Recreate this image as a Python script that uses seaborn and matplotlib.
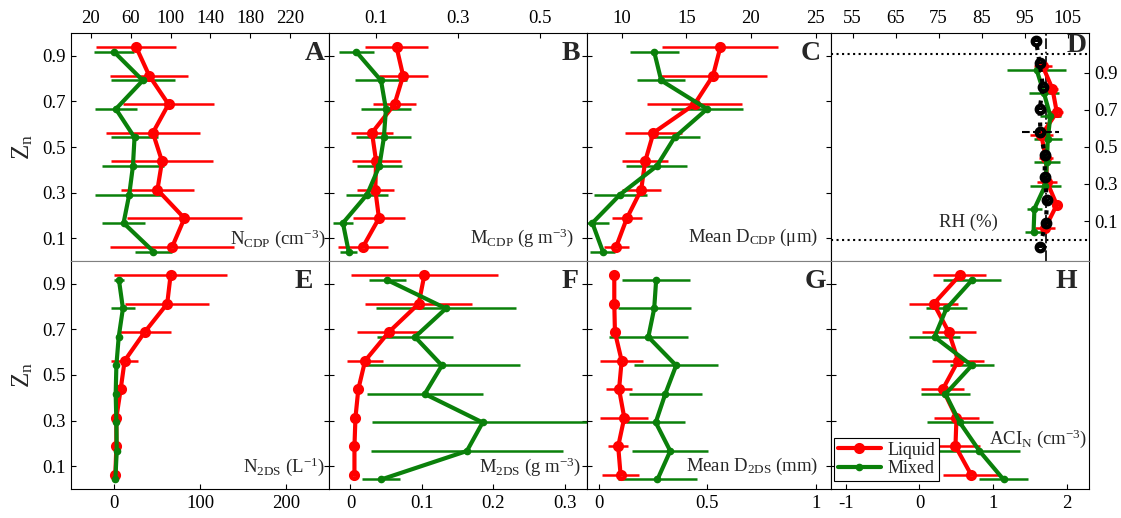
import matplotlib
matplotlib.use("Agg")
import matplotlib.pyplot as plt
from matplotlib.lines import Line2D
import seaborn as sns

# ---------------- data ----------------
# normalized height of each bin centre (bottom -> top)
zn_liquid = [0.0625, 0.1875, 0.3125, 0.4375, 0.5625, 0.6875, 0.8125, 0.9375]
zn_mixed = [0.0417, 0.1667, 0.2917, 0.4167, 0.5417, 0.6667, 0.7917, 0.9167]

# CDP number concentration (cm-3)
ncdp_liq = [101.6, 113.9, 86.8, 91.4, 82.2, 97.9, 78.6, 65.5]
ncdp_liq_sd = [62, 58, 37, 51, 47, 46, 39, 40]
ncdp_mix = [82.8, 52.8, 58.5, 62.2, 63.8, 45.1, 72.1, 43.4]
ncdp_mix_sd = [19, 22, 34, 31, 24, 21, 32, 20]

# CDP mass concentration (g m-3)
mcdp_liq = [0.068, 0.107, 0.098, 0.100, 0.090, 0.145, 0.166, 0.150]
mcdp_liq_sd = [0.060, 0.063, 0.045, 0.060, 0.051, 0.052, 0.060, 0.077]
mcdp_mix = [0.033, 0.019, 0.078, 0.108, 0.119, 0.124, 0.112, 0.052]
mcdp_mix_sd = [0.020, 0.025, 0.052, 0.055, 0.067, 0.062, 0.064, 0.043]

# CDP mean diameter (um)
dcdp_liq = [9.56, 10.39, 11.50, 11.81, 12.45, 15.63, 17.06, 17.63]
dcdp_liq_sd = [0.97, 1.15, 1.5, 1.8, 2.2, 3.7, 4.2, 4.5]
dcdp_mix = [8.53, 7.72, 9.87, 12.71, 14.08, 16.60, 13.05, 12.51]
dcdp_mix_sd = [0.97, 1.3, 2.05, 2.35, 1.95, 2.8, 1.85, 1.9]

# relative humidity (%)
rh_liq = [99.8, 102.5, 100.2, 100.0, 98.9, 102.5, 101.5, 99.2]
rh_liq_sd = [2.3, 0.8, 2.3, 1.7, 2.7, 1.5, 1.2, 2.1]
rh_mix = [97.1, 97.3, 99.8, 100.2, 100.4, 101.0, 99.5, 97.8]
rh_mix_sd = [2.1, 1.7, 3.6, 3.0, 3.3, 2.5, 3.5, 6.8]
zn_rh_all = [-0.039, 0.091, 0.214, 0.336, 0.457, 0.581, 0.704, 0.823, 0.952, 1.070]
rh_all = [98.5, 100.0, 100.2, 99.7, 99.7, 98.7, 98.5, 99.3, 98.5, 97.7]
rh_all_sd = [0.6, 0.6, 0.6, 0.6, 0.6, 4.25, 0.6, 0.6, 0.6, 0.6]

# 2DS number concentration (L-1)
n2ds_liq = [1.6, 2.8, 2.8, 7.8, 12.4, 35.6, 61.9, 65.8]
n2ds_liq_sd = [1, 1, 1, 3, 16, 31, 48.5, 66]
n2ds_mix = [1.6, 3.2, 2.8, 2.0, 2.8, 5.5, 10.4, 5.8]
n2ds_mix_sd = [1.5, 1.5, 1.5, 1.5, 2, 3, 14, 6]

# 2DS mass concentration (g m-3)
m2ds_liq = [0.0056, 0.0056, 0.007, 0.011, 0.0205, 0.0535, 0.0955, 0.1034]
m2ds_liq_sd = [0.002, 0.002, 0.002, 0.004, 0.025, 0.045, 0.075, 0.103]
m2ds_mix = [0.043, 0.163, 0.185, 0.104, 0.128, 0.0904, 0.1337, 0.0513]
m2ds_mix_sd = [0.027, 0.134, 0.155, 0.081, 0.109, 0.053, 0.098, 0.026]

# 2DS mean diameter (mm)
d2ds_liq = [0.100, 0.089, 0.117, 0.093, 0.105, 0.074, 0.071, 0.071]
d2ds_liq_sd = [0.084, 0.046, 0.11, 0.06, 0.10, 0.01, 0.01, 0.01]
d2ds_mix = [0.270, 0.329, 0.262, 0.306, 0.356, 0.228, 0.255, 0.264]
d2ds_mix_sd = [0.183, 0.175, 0.135, 0.168, 0.195, 0.183, 0.168, 0.158]

# aerosol-cloud interaction index
aci_liq = [0.701, 0.488, 0.502, 0.316, 0.525, 0.398, 0.194, 0.547]
aci_liq_sd = [0.38, 0.33, 0.30, 0.29, 0.355, 0.37, 0.33, 0.36]
aci_mix = [1.14, 0.814, 0.547, 0.353, 0.71, 0.204, 0.366, 0.715]
aci_mix_sd = [0.33, 0.55, 0.45, 0.33, 0.30, 0.34, 0.28, 0.39]

panel_letters = ["A", "B", "C", "D", "E", "F", "G", "H"]
quantity_labels = [
    r"N$_{\mathrm{CDP}}$ (cm$^{\mathrm{-3}}$)",
    r"M$_{\mathrm{CDP}}$ (g m$^{\mathrm{-3}}$)",
    r"Mean D$_{\mathrm{CDP}}$ ($\mathrm{\mu}$m)",
    "RH (%)",
    r"N$_{\mathrm{2DS}}$ (L$^{\mathrm{-1}}$)",
    r"M$_{\mathrm{2DS}}$ (g m$^{\mathrm{-3}}$)",
    r"Mean D$_{\mathrm{2DS}}$ (mm)",
    r"ACI$_{\mathrm{N}}$ (cm$^{\mathrm{-3}}$)",
]
xtick_values = [
    [20, 60, 100, 140, 180, 220],
    [0.1, 0.3, 0.5],
    [10, 15, 20, 25],
    [55, 65, 75, 85, 95, 105],
    [0, 100, 200],
    [0, 0.1, 0.2, 0.3],
    [0, 0.5, 1],
    [-1, 0, 1, 2],
]
xtick_labels = [
    ["20", "60", "100", "140", "180", "220"],
    ["0.1", "0.3", "0.5"],
    ["10", "15", "20", "25"],
    ["55", "65", "75", "85", "95", "105"],
    ["0", "100", "200"],
    ["0", "0.1", "0.2", "0.3"],
    ["0", "0.5", "1"],
    ["-1", "0", "1", "2"],
]
zn_ticks = [0.1, 0.3, 0.5, 0.7, 0.9]
zn_tick_labels = ["0.1", "0.3", "0.5", "0.7", "0.9"]

# ---------------- style ----------------
sns.set_theme(style="white")
plt.rcParams.update({
    "font.family": ["Liberation Serif", "DejaVu Serif"],
    "mathtext.fontset": "custom",
    "mathtext.rm": "Liberation Serif",
    "mathtext.it": "Liberation Serif:italic",
    "mathtext.bf": "Liberation Serif:bold",
    "axes.unicode_minus": False,
    "axes.edgecolor": "black",
    "axes.linewidth": 0.8,
})

RED = "#ff0000"
GREEN = "#0a800a"

fig = plt.figure(figsize=(11.21, 5.18), dpi=100)
col_geom = [(0.0633, 0.2302), (0.2935, 0.2301), (0.5236, 0.2177), (0.7413, 0.2302)]
row_bottom = [0.4961, 0.0560]
row_h = 0.4402

xlims = [(0, 259), (-0.015, 0.615), (7.3, 26.2), (50, 110),
         (-50, 250), (-0.03, 0.331), (-0.055, 1.07), (-1.2, 2.3)]
letter_pos = [(0.984, 0.911), (0.972, 0.911), (0.959, 0.911), (0.991, 0.947),
              (0.939, 0.909), (0.969, 0.909), (0.979, 0.909), (0.955, 0.909)]
label_pos = [(0.988, 0.096), (0.950, 0.100), (0.945, 0.105), (0.647, 0.171),
             (0.984, 0.099), (0.976, 0.099), (0.949, 0.101), (0.993, 0.219)]

series = [
    (ncdp_liq, ncdp_liq_sd, ncdp_mix, ncdp_mix_sd),
    (mcdp_liq, mcdp_liq_sd, mcdp_mix, mcdp_mix_sd),
    (dcdp_liq, dcdp_liq_sd, dcdp_mix, dcdp_mix_sd),
    (rh_liq, rh_liq_sd, rh_mix, rh_mix_sd),
    (n2ds_liq, n2ds_liq_sd, n2ds_mix, n2ds_mix_sd),
    (m2ds_liq, m2ds_liq_sd, m2ds_mix, m2ds_mix_sd),
    (d2ds_liq, d2ds_liq_sd, d2ds_mix, d2ds_mix_sd),
    (aci_liq, aci_liq_sd, aci_mix, aci_mix_sd),
]

liq_style = dict(color=RED, lw=3, marker="o", ms=5, mew=3, mfc="none", mec=RED)
mix_style = dict(color=GREEN, lw=3, marker="o", ms=4.5, mew=1, mfc=GREEN, mec=GREEN)


def draw_profile(ax, lx, lsd, mx, msd):
    ax.errorbar(lx, zn_liquid, xerr=lsd, fmt="none", ecolor=RED,
                elinewidth=1.8, capsize=0, zorder=2)
    ax.errorbar(mx, zn_mixed, xerr=msd, fmt="none", ecolor=GREEN,
                elinewidth=1.8, capsize=0, zorder=2)
    sns.lineplot(x=lx, y=zn_liquid, ax=ax, sort=False, estimator=None,
                 legend=False, zorder=3, **liq_style)
    sns.lineplot(x=mx, y=zn_mixed, ax=ax, sort=False, estimator=None,
                 legend=False, zorder=4, **mix_style)


for i in range(8):
    row, col = divmod(i, 4)
    left, width = col_geom[col]
    ax = fig.add_axes([left, row_bottom[row], width, row_h])
    lx, lsd, mx, msd = series[i]
    draw_profile(ax, lx, lsd, mx, msd)

    if i == 3:
        # whole-cloud RH profile with cloud base/top markers
        ax.axhline(0, ls=":", color="black", lw=1.5, zorder=1)
        ax.axhline(1, ls=":", color="black", lw=1.5, zorder=1)
        ax.axvline(100, ls="-.", color="black", lw=1.2, zorder=1)
        eb = ax.errorbar(rh_all, zn_rh_all, xerr=rh_all_sd, fmt="none",
                         ecolor="black", elinewidth=1.5, capsize=0, zorder=5)
        eb[2][0].set_linestyle("--")
        sns.lineplot(x=rh_all, y=zn_rh_all, ax=ax, sort=False, estimator=None,
                     legend=False, color="black", lw=3, ls=":", marker="o",
                     ms=5.5, mew=3, mfc="none", mec="black", zorder=6)
        ax.set_ylim(-0.116, 1.115)
    else:
        ax.set_ylim(0, 1)

    ax.set_xlim(*xlims[i])
    ax.set_xticks(xtick_values[i])
    ax.set_xticklabels(xtick_labels[i])
    ax.set_yticks(zn_ticks)
    ax.set_yticklabels(zn_tick_labels)
    ax.set_xlabel("")
    ax.set_ylabel("")

    ax.tick_params(axis="both", direction="in", length=3.5, width=0.8,
                   labelsize=13.5, colors="black", pad=4)
    if row == 0:
        ax.tick_params(axis="x", top=True, bottom=False,
                       labeltop=True, labelbottom=False)
        ax.spines["bottom"].set_color("#808080")
    else:
        ax.tick_params(axis="x", top=False, bottom=True,
                       labeltop=False, labelbottom=True)
        ax.spines["top"].set_color("#808080")

    if col == 0:
        ax.tick_params(axis="y", left=True, right=True,
                       labelleft=True, labelright=False)
        ax.set_ylabel(r"Z$_{\mathrm{n}}$", fontsize=18)
        ax.yaxis.set_label_coords(-0.14, 0.5)
    elif i == 3:
        ax.tick_params(axis="y", left=False, right=True,
                       labelleft=False, labelright=True)
    elif i == 7:
        ax.tick_params(axis="y", left=True, right=False,
                       labelleft=False, labelright=False)
    else:
        ax.tick_params(axis="y", left=True, right=True,
                       labelleft=False, labelright=False)

    for s in ax.spines.values():
        s.set_linewidth(0.8)

    lxp, lyp = letter_pos[i]
    ax.text(lxp, lyp, panel_letters[i], transform=ax.transAxes, ha="right",
            va="center", fontsize=20, fontweight="bold", zorder=10)
    qx, qy = label_pos[i]
    ax.text(qx, qy, quantity_labels[i], transform=ax.transAxes, ha="right",
            va="center", fontsize=13.5, zorder=10)

    if i == 7:
        handles = [Line2D([], [], **liq_style), Line2D([], [], **mix_style)]
        leg = ax.legend(handles, ["Liquid", "Mixed"], loc="lower left",
                        bbox_to_anchor=(0.012, 0.035), borderaxespad=0,
                        frameon=True, fancybox=False, edgecolor="black",
                        framealpha=1, fontsize=13, handlelength=2.4,
                        borderpad=0.2, labelspacing=0.1, handletextpad=0.35)
        leg.get_frame().set_linewidth(0.8)
        leg.set_zorder(20)

fig.savefig("out.png", dpi=100)
